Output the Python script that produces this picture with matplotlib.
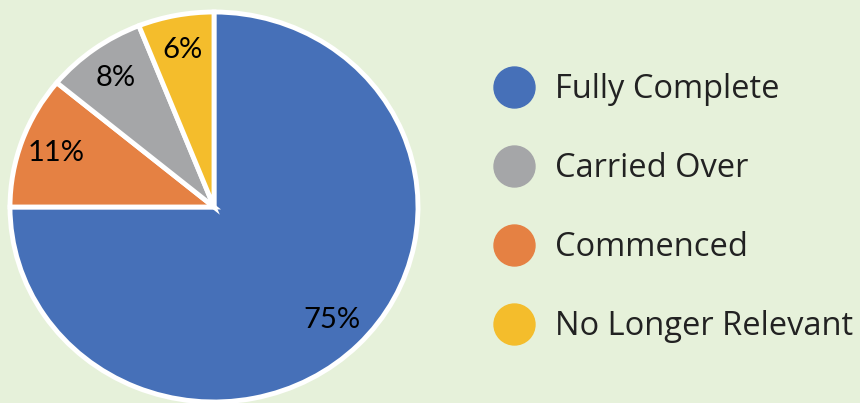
import matplotlib.pyplot as plt
from matplotlib.lines import Line2D

# slices, clockwise from 12 o'clock
labels = ['Fully Complete', 'Commenced', 'Carried Over', 'No Longer Relevant']
values = [75, 11, 8, 6]
colors = ['#4670b8', '#e58143', '#a5a6a8', '#f4bd2c']

# legend order
legend_order = ['Fully Complete', 'Carried Over', 'Commenced', 'No Longer Relevant']

bg = '#e6f1da'
W, H = 860, 403

fig = plt.figure(figsize=(W / 100, H / 100), dpi=100, facecolor=bg)

# pie is a little wider than tall in the reference
cx, cy = 214, 207
rx, ry = 204, 195
ax = fig.add_axes([(cx - rx) / W, (H - cy - ry) / H, 2 * rx / W, 2 * ry / H])
ax.set_facecolor(bg)

wedges, texts, autotexts = ax.pie(
    values, colors=colors, startangle=90, counterclock=False,
    autopct='%d%%', pctdistance=0.82,
    wedgeprops=dict(edgecolor='white', linewidth=3.5),
    textprops=dict(fontsize=21, color='black', family=['Lato', 'DejaVu Sans']))
for w in wedges:
    w.set_clip_on(False)
ax.set_aspect('auto')
ax.set_xlim(-1, 1)
ax.set_ylim(-1, 1)
ax.axis('off')

handles = []
for name in legend_order:
    c = colors[labels.index(name)]
    handles.append(Line2D([], [], linestyle='none', marker='o', markersize=29.5,
                          markerfacecolor=c, markeredgecolor=c))

leg = fig.legend(handles, legend_order, loc='upper left',
                 bbox_to_anchor=(493 / W, 1 - 73 / H), frameon=False,
                 prop=dict(family=['Open Sans', 'DejaVu Sans'], size=23.5),
                 labelspacing=1.41, handletextpad=0.64, handlelength=1.26,
                 borderpad=0, borderaxespad=0)
for t in leg.get_texts():
    t.set_color('#222222')

fig.savefig('out.png', dpi=100, facecolor=bg)
